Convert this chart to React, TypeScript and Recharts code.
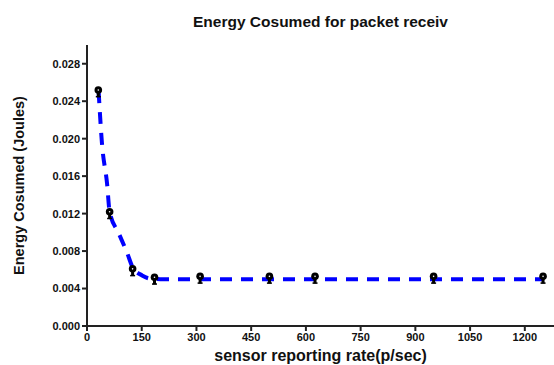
import { ComposedChart, Line, Scatter, XAxis, YAxis } from "recharts";

// measured points (sensor reporting rate vs energy)
const rates = [31, 62, 125, 185, 310, 500, 625, 950, 1250];
const energy = [0.0252, 0.0122, 0.0061, 0.0052, 0.0053, 0.0053, 0.0053, 0.0053, 0.0053];

// fitted curve
const fitRates = [31.8, 41, 55, 62, 87, 110, 126, 151, 174, 201, 1250];
const fitEnergy = [0.0251, 0.0195, 0.0152, 0.0122, 0.0099, 0.0078, 0.0062, 0.0054, 0.00505, 0.005, 0.005];

const xTicks = [0, 150, 300, 450, 600, 750, 900, 1050, 1200];
const yTicks = [0, 0.004, 0.008, 0.012, 0.016, 0.02, 0.024, 0.028];

const points = rates.map((x, i) => ({ x, y: energy[i] }));
const fit = fitRates.map((x, i) => ({ x, y: fitEnergy[i] }));

const font = "'Liberation Sans', Arial, sans-serif";
const axisColor = "#222";

function Marker(props: any) {
  const { cx, cy } = props;
  if (cx == null || cy == null) return null;
  return (
    <g>
      <rect x={cx - 1.5} y={cy} width={3} height={7} fill="#000" />
      <rect x={cx - 2.5} y={cy + 6} width={5} height={1.5} fill="#000" />
      <circle cx={cx} cy={cy} r={3.8} fill="#000" />
      <circle cx={cx} cy={cy} r={0.8} fill="#fff" />
    </g>
  );
}

export default function App() {
  return (
    <div style={{ position: "absolute", left: 0, top: 0, width: 554, height: 365, background: "#fff", fontFamily: font }}>
      <div
        style={{
          position: "absolute",
          left: 87,
          width: 467,
          top: 14,
          lineHeight: 1,
          textAlign: "center",
          fontSize: 15.5,
          fontWeight: "bold",
          color: "#111",
        }}
      >
        Energy Cosumed for packet receiv
      </div>
      <ComposedChart width={554} height={365} margin={{ top: 45, right: 0, bottom: 0, left: 0 }}>
        <XAxis
          type="number"
          dataKey="x"
          domain={[0, 1280]}
          ticks={xTicks}
          allowDataOverflow
          stroke={axisColor}
          strokeWidth={2}
          tickSize={5}
          height={39}
          tick={{ fill: "#111", fontSize: 11, fontWeight: "bold", fontFamily: font }}
          label={{
            value: "sensor reporting rate(p/sec)",
            position: "insideBottom",
            offset: 4,
            style: { fill: "#111", fontSize: 16, fontWeight: "bold", fontFamily: font },
          }}
        />
        <YAxis
          type="number"
          dataKey="y"
          domain={[0, 0.03]}
          ticks={yTicks}
          tickFormatter={(v: number) => v.toFixed(3)}
          stroke={axisColor}
          strokeWidth={2}
          tickSize={5}
          width={87}
          tick={{ fill: "#111", fontSize: 11, fontWeight: "bold", fontFamily: font }}
          label={{
            value: "Energy Cosumed (Joules)",
            angle: -90,
            position: "insideLeft",
            offset: 19,
            style: { fill: "#111", fontSize: 14.5, fontWeight: "bold", fontFamily: font, textAnchor: "middle" },
          }}
        />
        <Line
          data={fit}
          dataKey="y"
          type="monotone"
          stroke="#0000ff"
          strokeWidth={4}
          strokeDasharray="12 9"
          dot={false}
          activeDot={false}
          isAnimationActive={false}
        />
        <Scatter data={points} dataKey="y" shape={<Marker />} isAnimationActive={false} />
      </ComposedChart>
    </div>
  );
}
